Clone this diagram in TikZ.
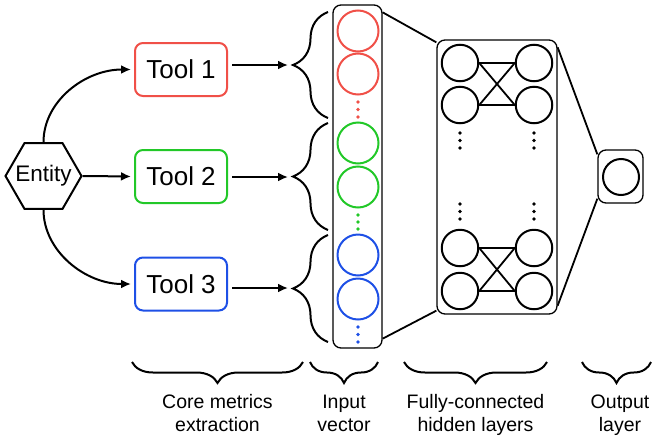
\documentclass[tikz,border=0pt]{standalone}
\usepackage{fontspec}
\setmainfont{Liberation Sans}
\usetikzlibrary{shapes.geometric,decorations.pathreplacing,arrows.meta}
\definecolor{tred}{RGB}{240,80,72}
\definecolor{tgreen}{RGB}{34,200,40}
\definecolor{tblue}{RGB}{30,80,230}
\begin{document}
\begin{tikzpicture}[x=1pt,y=-1pt,
  toolbox/.style={draw, line width=2pt, rounded corners=8pt, minimum width=92pt, minimum height=53pt, inner sep=0pt, font=\fontsize{26}{30}\selectfont},
  neuron/.style={circle, draw, line width=2pt, minimum size=41pt, inner sep=0pt},
  hneuron/.style={circle, draw, line width=2pt, minimum size=36.5pt, inner sep=0pt},
  layerbox/.style={draw, line width=1.3pt, rounded corners=8pt, inner sep=0pt},
  arr/.style={line width=2pt, -{Latex[length=10pt,width=9pt]}},
  brc/.style={line width=2pt, decorate, decoration={brace, amplitude=#1}},
  lbl/.style={font=\fontsize{19.5}{23}\selectfont, align=center, anchor=base},
  conn/.style={line width=1.8pt},
]
\useasboundingbox (0,0) rectangle (652,442);

% entity and tools
\node[regular polygon, regular polygon sides=6, draw, line width=2pt,
      minimum size=76pt, inner sep=0pt] (ent) at (43.5,176) {};
\node[font=\fontsize{22.5}{26}\selectfont, inner sep=0pt] (entlabel) at (ent.center) {Entity};
\node[toolbox, tred] (t1) at (181,69.5) {\color{black}Tool 1};
\node[toolbox, tgreen] (t2) at (181,176.5) {\color{black}Tool 2};
\node[toolbox, tblue] (t3) at (181,284) {\color{black}Tool 3};

\draw[arr, shorten >=3pt] (ent.north) .. controls +(0,-41) and +(-49,0) .. (t1.west);
\draw[arr, shorten >=3pt] (ent.east) -- (t2.west);
\draw[arr, shorten >=3pt] (ent.south) .. controls +(0,41) and +(-49,0) .. (t3.west);

% braces before input vector
\coordinate (b1) at (293,65);
\coordinate (b2) at (293,177);
\coordinate (b3) at (293,288);
\draw[brc=35pt] (328,118) -- (328,12);
\draw[brc=35pt] (328,230) -- (328,123);
\draw[brc=35pt] (328,342) -- (328,235);

\draw[arr, shorten <=4pt, shorten >=5pt] (t1.east |- b1) -- (b1);
\draw[arr, shorten <=4pt, shorten >=5pt] (t2.east |- b2) -- (b2);
\draw[arr, shorten <=4pt, shorten >=5pt] (t3.east |- b3) -- (b3);

% input vector
\node[layerbox, minimum width=49pt, minimum height=343pt] (inbox) at (357.5,176.5) {};
\node[neuron, tred] (i1) at (358,31) {};
\node[neuron, tred] (i2) at (358,74) {};
\node[neuron, tgreen] (i3) at (358,143) {};
\node[neuron, tgreen] (i4) at (358,187) {};
\node[neuron, tblue] (i5) at (358,255) {};
\node[neuron, tblue] (i6) at (358,299) {};
\foreach \y in {102,109.5,117} \fill[tred] (358,\y) circle (1.8pt);
\foreach \y in {215,222,229} \fill[tgreen] (358,\y) circle (1.8pt);
\foreach \y in {327,334.5,342} \fill[tblue] (358,\y) circle (1.8pt);

% hidden layers
\node[layerbox, minimum width=120pt, minimum height=274pt] (hid) at (497,177) {};
\node[hneuron] (h1) at (460,63) {};
\node[hneuron] (h2) at (534,63) {};
\node[hneuron] (h3) at (460,105) {};
\node[hneuron] (h4) at (534,105) {};
\node[hneuron] (h5) at (460,248) {};
\node[hneuron] (h6) at (534,248) {};
\node[hneuron] (h7) at (460,291) {};
\node[hneuron] (h8) at (534,291) {};
\draw[conn] (h1.east) -- (h2.west);
\draw[conn] (h1.east) -- (h4.west);
\draw[conn] (h3.east) -- (h2.west);
\draw[conn] (h3.east) -- (h4.west);
\draw[conn] (h5.east) -- (h6.west);
\draw[conn] (h5.east) -- (h8.west);
\draw[conn] (h7.east) -- (h6.west);
\draw[conn] (h7.east) -- (h8.west);
\foreach \x in {460,534}{
  \foreach \y in {133,140.5,148,204,211.5,219} \fill (\x,\y) circle (1.8pt);
}

% output layer
\node[layerbox, minimum width=45pt, minimum height=53pt] (outbox) at (620.5,176.5) {};
\node[hneuron, minimum size=36pt] (o1) at (621,177) {};

% connectors between layers
\draw[conn] ([yshift=-8pt]inbox.north east) -- ([yshift=-3pt]hid.north west);
\draw[conn] ([yshift=10pt]inbox.south east) -- ([yshift=4pt]hid.south west);
\draw[conn] ([yshift=-8pt]hid.north east) -- ([yshift=-5pt]outbox.north west);
\draw[conn] ([yshift=9pt]hid.south east) -- ([yshift=5pt]outbox.south west);

% bottom braces and labels
\draw[brc=21pt] (303,362) -- (132,362);
\draw[brc=21pt] (378,362) -- (310,362);
\draw[brc=21pt] (547,362) -- (404,362);
\draw[brc=21pt] (651,362) -- (582,362);
\node[lbl] (l1) at (217.5,431) {Core metrics\\extraction};
\node[lbl] (l2) at (344,431) {Input\\vector};
\node[lbl] (l3) at (475.5,431) {Fully-connected\\hidden layers};
\node[lbl] (l4) at (620,431) {Output\\layer};
\end{tikzpicture}
\end{document}
